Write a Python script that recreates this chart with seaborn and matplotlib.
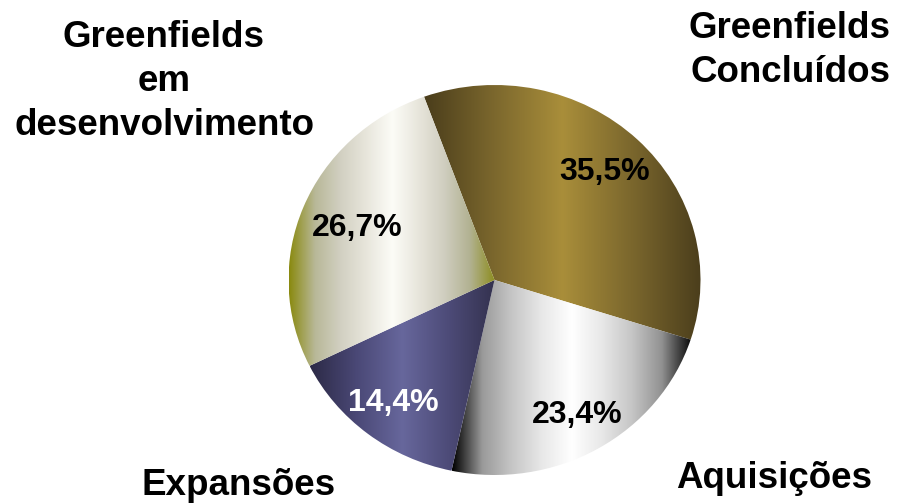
import numpy as np
import matplotlib
matplotlib.use("Agg")
import matplotlib.pyplot as plt
import seaborn as sns

# Share of units by origin
categories = ["Greenfields\nConcluídos", "Aquisições", "Expansões", "Greenfields\nem\ndesenvolvimento"]
shares = [35.5, 23.4, 14.4, 26.7]

# Horizontal shading of each slice, left edge -> centre -> right edge
shading = [
    ["#4a3d1b", "#7b672d", "#a98e3a", "#7b672d", "#4b3e1c"],
    ["#000000", "#9a9a9a", "#c6c6c6", "#e8e8e8", "#ffffff", "#e8e8e8", "#c6c6c6", "#929292", "#080808"],
    ["#2c2a46", "#4a4876", "#67679c", "#4d4b78", "#34324f"],
    ["#8a8a10", "#b8b898", "#d2d0c2", "#e8e6dc", "#fcfcf7", "#e8e6dc", "#d0cec0", "#b2b292", "#8c8c1c"],
]
pct_colors = ["black", "black", "white", "black"]
pct_radius = [0.77, 0.80, 0.80, 0.72]

sns.set_theme(style="white")
plt.rcParams["font.family"] = ["Liberation Sans", "DejaVu Sans"]
plt.rcParams["font.weight"] = "bold"

W, H = 898, 504
fig = plt.figure(figsize=(W / 100, H / 100), dpi=100)
ax = fig.add_axes([0, 0, 1, 1])

wedges, _ = ax.pie(shares, startangle=110, counterclock=False,
                   wedgeprops=dict(linewidth=0))

gradient = np.linspace(0, 1, 512)[None, :]
for w, cols in zip(wedges, shading):
    cmap = sns.blend_palette(cols, n_colors=256, as_cmap=True)
    ext = w.get_path().get_extents()
    im = ax.imshow(gradient, cmap=cmap, aspect="auto", interpolation="bilinear",
                   extent=[ext.x0, ext.x1, ext.y0, ext.y1], zorder=1)
    im.set_clip_path(w)
    w.set_facecolor("none")

# Percentage labels along each slice's mid-angle
for w, val, col, r in zip(wedges, shares, pct_colors, pct_radius):
    ang = np.deg2rad((w.theta1 + w.theta2) / 2)
    ax.text(r * np.cos(ang), r * np.sin(ang), f"{val:.1f}%".replace(".", ","),
            ha="center", va="center", fontsize=23, fontweight="bold", color=col, zorder=3)

# Slightly oval pie: independent x/y scaling
ax.set_aspect("auto")
ax.set_xlim(-2.4005, 1.9587)
ax.set_ylim(-1.1487, 1.4359)
ax.axis("off")

# Category captions around the pie (x centre, baseline of last line)
label_pos = [(790, 82), (774, 488), (239, 495), (164, 135)]
for txt, (px, py) in zip(categories, label_pos):
    fig.text(px / W, 1 - py / H, txt, ha="center", va="baseline", fontsize=26.5,
             fontweight="bold", color="black", linespacing=1.33, multialignment="center")

fig.savefig("out.png", dpi=100, facecolor="white")
